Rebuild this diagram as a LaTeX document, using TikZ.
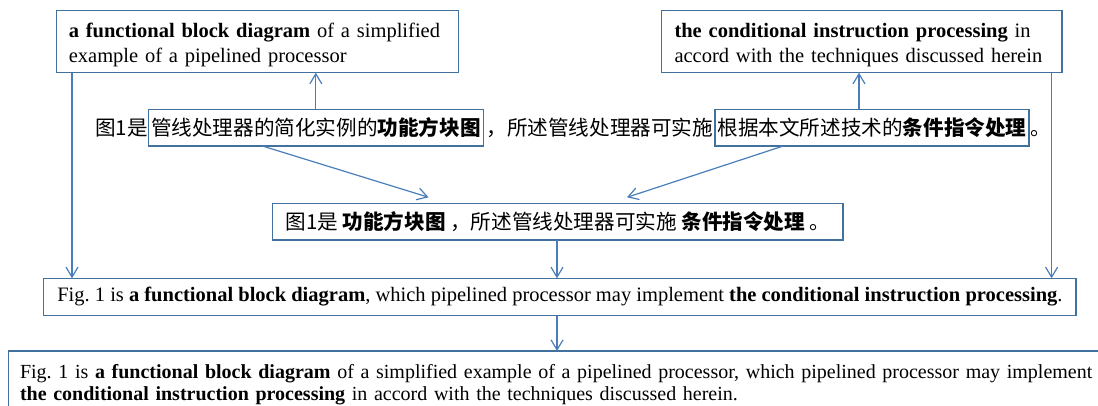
\documentclass[tikz,border=0pt]{standalone}
\usepackage{fontspec}
\setmainfont{Liberation Serif}
\newfontfamily\cjk{Noto Sans CJK SC}
\usetikzlibrary{arrows.meta,calc}
\definecolor{boxblue}{HTML}{41719C}
\definecolor{lineblue}{HTML}{4A7EBB}
\frenchspacing

\begin{document}
\begin{tikzpicture}[x=1pt,y=-1pt,
  every node/.style={font=\fontsize{20.5}{24}\selectfont},
  box/.style={draw=boxblue, line width=1.3pt, inner sep=0pt, outer sep=0pt},
  zh/.style={font=\cjk\fontsize{20.6}{24}\selectfont},
  piece/.style={zh, inner sep=0pt, outer sep=0pt},
  link/.style={draw=lineblue, line width=1.2pt, -{Straight Barb[length=10pt,width=12pt]}}]

\useasboundingbox (0,0) rectangle (1098,406);
\clip (0,0) rectangle (1098,406);

% English source fragments (the strut lowers the two lines inside the box)
\node[box, anchor=north west, minimum width=401.6pt, minimum height=62.4pt,
      text width=377.6pt, align=left, inner xsep=12pt,
      font=\fontsize{20.5}{25}\selectfont] (A) at (56.8,10.3)
  {\rule{0pt}{22pt}\textbf{a functional block diagram} of a simplified\\example of a pipelined processor};
\node[box, anchor=north west, minimum width=400.5pt, minimum height=62.4pt,
      text width=374.5pt, align=left, inner xsep=13pt,
      font=\fontsize{20.5}{25}\selectfont] (B) at (661.5,10.3)
  {\rule{0pt}{22pt}\textbf{the conditional instruction processing} in\\accord with the techniques discussed herein};

% Chinese sentence with the two marked phrases
\node[piece, anchor=base west] (p1) at (95,135.6) {图1是};
\node[box, zh, anchor=base, minimum width=335pt, minimum height=36.7pt] (C1) at (315.8,135.6)
  {管线处理器的简化实例的\textbf{功能方块图}};
\node[piece, anchor=base east] (p2) at (713,135.6) {，所述管线处理器可实施};
\node[box, zh, anchor=base, minimum width=314pt, minimum height=36.7pt] (C2) at (872,135.6)
  {根据本文所述技术的\textbf{条件指令处理}};
\node[piece, anchor=base west] (p3) at (1030,135.6) {。};

% condensed Chinese sentence
\node[box, zh, minimum width=570.3pt, minimum height=36.7pt] (D) at (557.85,221.65)
  {图1是 \textbf{功能方块图} ，所述管线处理器可实施 \textbf{条件指令处理} 。};

% condensed English sentence
\node[box, minimum width=1032.2pt, minimum height=37.4pt] (E) at (559.9,297)
  {Fig. 1 is \textbf{a functional block diagram}, which pipelined processor may implement \textbf{the conditional instruction processing}.};

% full English sentence
\node[box, anchor=north west, text width=1400pt, align=left,
      inner xsep=11.5pt, inner ysep=13pt,
      font=\fontsize{20}{22.5}\selectfont] (F) at (8.5,351)
  {Fig. 1 is \textbf{a functional block diagram} of a simplified example of a pipelined processor, which pipelined processor may implement\\
   \textbf{the conditional instruction processing} in accord with the techniques discussed herein.};

% x positions of the connectors
\coordinate (xa) at (72,0);
\coordinate (xb) at (1051.6,0);
\coordinate (xc1) at (262.4,0);
\coordinate (xd1) at (428.6,0);
\coordinate (xc2) at (783,0);
\coordinate (xd2) at (627,0);
\coordinate (xup2) at (859,0);
\coordinate (xm) at (557,0);

\draw[link] (C1.north) -- (C1.north |- A.south);
\draw[link] (C2.north -| xup2) -- (xup2 |- B.south);
\draw[link] (C1.south -| xc1) -- ($(xd1 |- D.north)+(0,-6)$);
\draw[link] (C2.south -| xc2) -- ($(xd2 |- D.north)+(0,-6)$);
\draw[link] (D.south -| xm) -- (xm |- E.north);
\draw[link] (E.south -| xm) -- (xm |- F.north);
\draw[link] (A.south -| xa) -- (xa |- E.north);
\draw[link] (B.south -| xb) -- (xb |- E.north);
\end{tikzpicture}
\end{document}
